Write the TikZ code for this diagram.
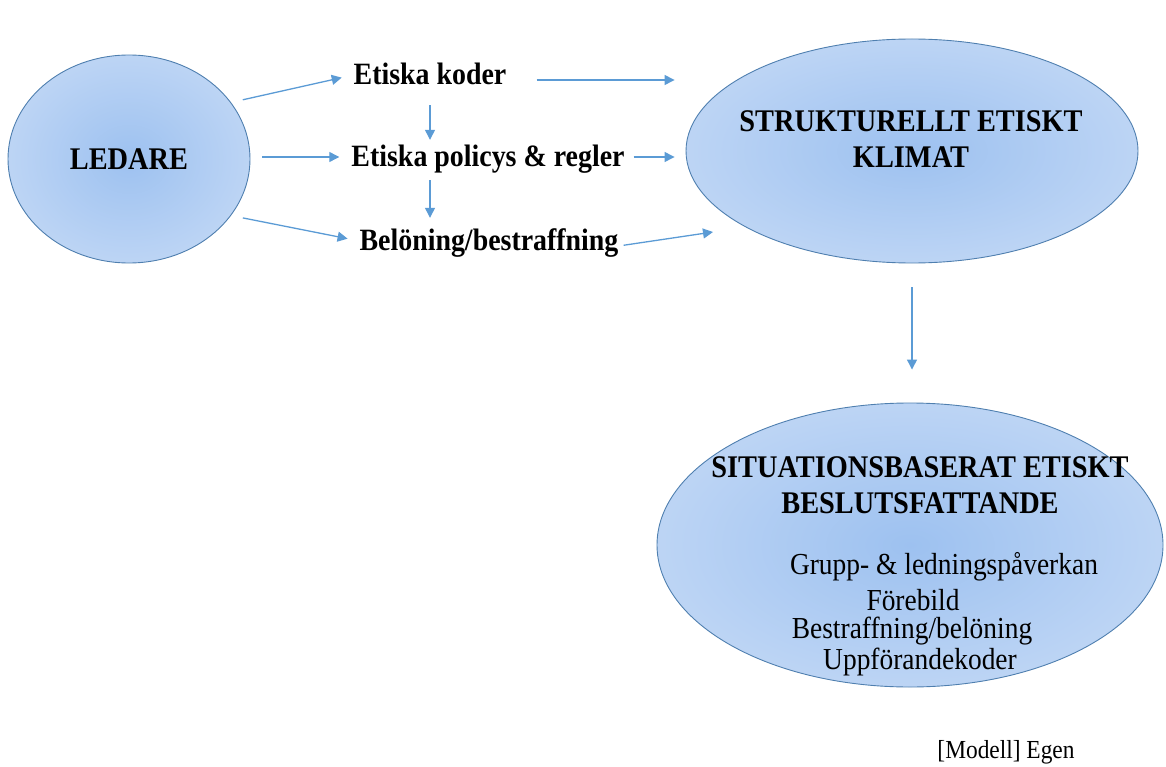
\documentclass[tikz,border=0pt]{standalone}
\usepackage{fontspec}
\setmainfont{Liberation Serif}[FakeStretch=0.9]
\usetikzlibrary{arrows.meta,positioning,shapes.geometric}
\definecolor{kant}{HTML}{4F7FAF}
\definecolor{pilbla}{HTML}{5B9BD5}
\definecolor{mittbla}{HTML}{9DC1F0}
\definecolor{kantbla}{HTML}{DCE8F9}
\pgfdeclareradialshading{glow}{\pgfpoint{0bp}{0bp}}{color(0bp)=(mittbla); color(50bp)=(kantbla); color(72bp)=(kantbla)}

\begin{document}
\begin{tikzpicture}[x=1pt,y=-1pt,
every node/.style={inner sep=0pt},
blob/.style={ellipse,draw=kant,line width=0.9pt,shade,shading=glow},
rubrik/.style={font=\bfseries\fontsize{31.5}{36}\selectfont,align=center},
etikett/.style={font=\bfseries\fontsize{31}{34}\selectfont,text height=20pt,text depth=0pt},
punkt/.style={font=\fontsize{30.5}{34}\selectfont},
pil/.style={draw=pilbla,line width=1.3pt,-{Triangle[length=10pt,width=10pt]}}]
\useasboundingbox (0,0) rectangle (1166,767);
\node[blob,rubrik,minimum width=242pt,minimum height=208pt] (Led) at (129,159) {LEDARE};
\node[etikett] (Kod) at (430,75) {Etiska koder};
\node[etikett] (Pol) at (488,157) {Etiska policys \& regler};
\node[etikett] (Bel) at (489,241) {Belöning/bestraffning};
\node[blob,minimum width=452pt,minimum height=224pt] (Klim) at (912,151) {};
\node[rubrik] (tKlim) at (911,139) {STRUKTURELLT ETISKT\\KLIMAT};
\node[blob,minimum width=506pt,minimum height=284pt] (Sit) at (910,545) {};
\node[rubrik] (tSit) at (920,485) {SITUATIONSBASERAT ETISKT\\BESLUTSFATTANDE};
\node[punkt] (p1) at (944,567) {Grupp- \& ledningspåverkan};
\node[punkt] (p2) at (913,600) {Förebild};
\node[punkt] (p3) at (912,631) {Bestraffning/belöning};
\node[punkt] (p4) at (920,662) {Uppförandekoder};
\node[font=\fontsize{26}{30}\selectfont] (kalla) at (1006,752) {[Modell] Egen};
\coordinate (inBel) at (713,232);
\draw[pil,shorten <=12pt,shorten >=12pt] (Led.29) -- (Kod.west);
\draw[pil,shorten <=12pt,shorten >=12pt] (Led.east |- Pol) -- (Pol.west);
\draw[pil,shorten <=12pt,shorten >=12pt] (Led.-29) -- (Bel.west);
\draw[pil,shorten <=20pt,shorten >=7pt] (Kod.south) -- (Kod.south |- Pol.north);
\draw[pil,shorten <=13pt,shorten >=13pt] (Kod.south |- Pol.south) -- (Kod.south |- Bel.north);
\draw[pil,shorten <=30pt,shorten >=11pt] ([yshift=-5pt]Kod.east) -- ([yshift=-5pt]Kod.east -| Klim.west);
\draw[pil,shorten <=9pt,shorten >=11pt] (Pol.east) -- (Pol.east -| Klim.west);
\draw[pil,shorten <=5pt] ([yshift=-5pt]Bel.east) -- (inBel);
\draw[pil,shorten <=24pt,shorten >=33pt] (Klim.south) -- (Klim.south |- Sit.north);
\end{tikzpicture}
\end{document}
